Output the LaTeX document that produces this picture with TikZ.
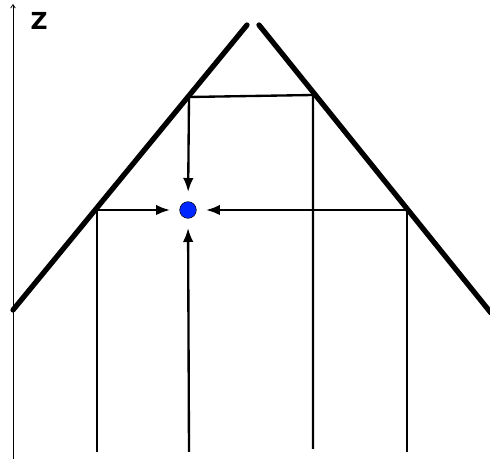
\documentclass[tikz,border=0pt]{standalone}
\usepackage{fontspec}
\newfontfamily\labelfont{DejaVu Sans}[UprightFont=*-Bold]
\usepackage{tikz}
\usetikzlibrary{arrows.meta,positioning,calc}

\begin{document}
\begin{tikzpicture}[x=0.03cm,y=-0.03cm,>={Latex[length=12pt,width=9pt]},
  roof/.style={line width=4.5pt,line cap=round},
  ray/.style={line width=2pt},
  flow/.style={->,line width=2pt,shorten >=8pt},
  axis/.style={->,line width=0.6pt,>={Straight Barb[length=3pt,width=4pt]}},
  dot/.style={circle,draw,thin,fill=blue!85!cyan,minimum size=0.5cm,inner sep=0pt}]
  \useasboundingbox (0,0) rectangle (490,459);
  % z axis on the left
  \coordinate (A0) at (13,459);
  \coordinate (A1) at (13,4);
  \draw[axis] (A0) -- (A1);
  \node[inner sep=0pt] (Z) at (39,21) {\labelfont\fontsize{20}{22}\selectfont Z};
  % the two roof slopes
  \coordinate (L0) at (13,310);
  \coordinate (L1) at (247,25);
  \coordinate (R0) at (259,25);
  \coordinate (R1) at (491,313);
  \draw[roof] (L0) -- (L1);
  \draw[roof] (R0) -- (R1);
  % where the rays meet the slopes
  \coordinate (B1) at (97,210);
  \coordinate (B2) at (189,97);
  \coordinate (B3) at (313,95);
  \coordinate (B4) at (407,210);
  % ray feet
  \coordinate (F1) at (97,452);
  \coordinate (F2) at (189,452);
  \coordinate (F3) at (313,449);
  \coordinate (F4) at (407,452);
  % the point
  \node[dot] (P) at (188,210) {};
  % rays
  \draw[ray] (F1) -- (B1);
  \draw[ray] (F3) -- (B3) -- (B2);
  \draw[ray] (F4) -- (B4);
  \draw[flow] (F2) -- (P);
  \draw[flow] (B1) -- (P);
  \draw[flow] (B2) -- (P);
  \draw[flow] (B4) -- (P);
\end{tikzpicture}
\end{document}
